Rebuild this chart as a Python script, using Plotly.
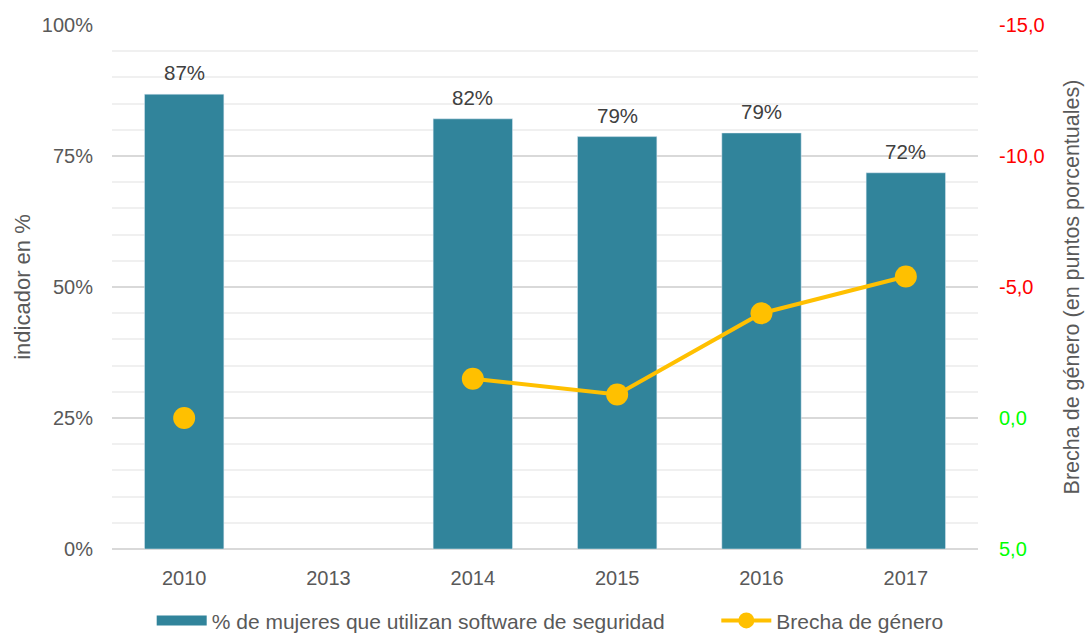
import plotly.graph_objects as go

years = ["2010", "2013", "2014", "2015", "2016", "2017"]
pct_mujeres = [86.8, None, 82.1, 78.7, 79.4, 71.8]
brecha = [0.0, None, -1.5, -0.9, -4.0, -5.4]

bar_name = "% de mujeres que utilizan software de seguridad"
line_name = "Brecha de género"

left_ticks = [0, 25, 50, 75, 100]
left_ticktext = ["0%", "25%", "50%", "75%", "100%"]
right_ticks = [5, 0, -5, -10, -15]
right_ticktext = ["5,0", "0,0", "-5,0", "-10,0", "-15,0"]
right_tickcolors = ["#00FF00", "#00FF00", "#FF0000", "#FF0000", "#FF0000"]

FONT = "Liberation Sans, Arial, sans-serif"
GRAY = "#595959"
CLEAR = "rgba(0,0,0,0)"
TEAL = "#31849B"
GOLD = "#FFC000"

fig = go.Figure()
fig.add_trace(go.Bar(
    x=years, y=pct_mujeres,
    name=bar_name,
    marker=dict(color=TEAL),
    width=0.55,
    yaxis="y",
    showlegend=False,
))
# legend proxy giving the wide rectangular swatch of the bar series
fig.add_trace(go.Scatter(
    x=[None], y=[None],
    name=bar_name + "\u00a0" * 8,
    mode="lines",
    line=dict(color=TEAL, width=11),
    yaxis="y",
))
fig.add_trace(go.Scatter(
    x=years, y=brecha,
    name=line_name,
    mode="lines+markers",
    line=dict(color=GOLD, width=4),
    marker=dict(color=GOLD, size=22),
    connectgaps=False,
    yaxis="y2",
))

# data labels above bars (category index used as x position on the category axis)
for i, v in enumerate(pct_mujeres):
    if v is None:
        continue
    fig.add_annotation(
        x=i, y=v, xref="x", yref="y",
        text=f"{v:.0f}%", showarrow=False,
        yanchor="bottom", yshift=8,
        font=dict(size=20.5, color="#404040", family=FONT),
    )

fig.update_layout(
    width=1085, height=633,
    paper_bgcolor="white", plot_bgcolor="white",
    margin=dict(l=112, r=107, t=25, b=84, autoexpand=False),
    font=dict(family=FONT, size=20, color=GRAY),
    xaxis=dict(
        type="category", automargin=False,
        categoryorder="array", categoryarray=years,
        range=[-0.5, len(years) - 0.5],
        showgrid=False, showline=False,
        ticks="outside", ticklen=11, tickcolor=CLEAR,
        tickfont=dict(size=20, color=GRAY),
    ),
    yaxis=dict(
        range=[0, 100], automargin=False,
        tickvals=left_ticks, ticktext=left_ticktext,
        showgrid=True, gridcolor="#D9D9D9", gridwidth=1.5,
        minor=dict(dtick=5, showgrid=True, gridcolor="#F0F0F0", gridwidth=1.5),
        zeroline=True, zerolinecolor="#D9D9D9", zerolinewidth=1.5,
        tickfont=dict(size=20, color=GRAY),
        ticks="outside", ticklen=14, tickcolor=CLEAR,
        title=dict(text="indicador en %", font=dict(size=22, color=GRAY), standoff=5),
        showline=False,
    ),
    yaxis2=dict(
        overlaying="y", side="right", automargin=False,
        range=[5, -15],
        tickvals=right_ticks,
        ticktext=[f'<span style="color:{c}">{t}</span>' for t, c in zip(right_ticktext, right_tickcolors)],
        showgrid=False, zeroline=False, showline=False,
        ticks="outside", ticklen=16, tickcolor=CLEAR,
        tickfont=dict(size=20),
        title=dict(text="Brecha de género (en puntos porcentuales)", font=dict(size=21.5, color=GRAY), standoff=20),
    ),
    legend=dict(
        orientation="h", x=0.506, xanchor="center", y=-0.137, yanchor="middle",
        font=dict(size=21, color=GRAY),
        itemwidth=50, traceorder="normal",
    ),
    showlegend=True,
)

fig.write_html("out.html", config={"displayModeBar": False},
               post_script="document.body.style.margin='0';")
